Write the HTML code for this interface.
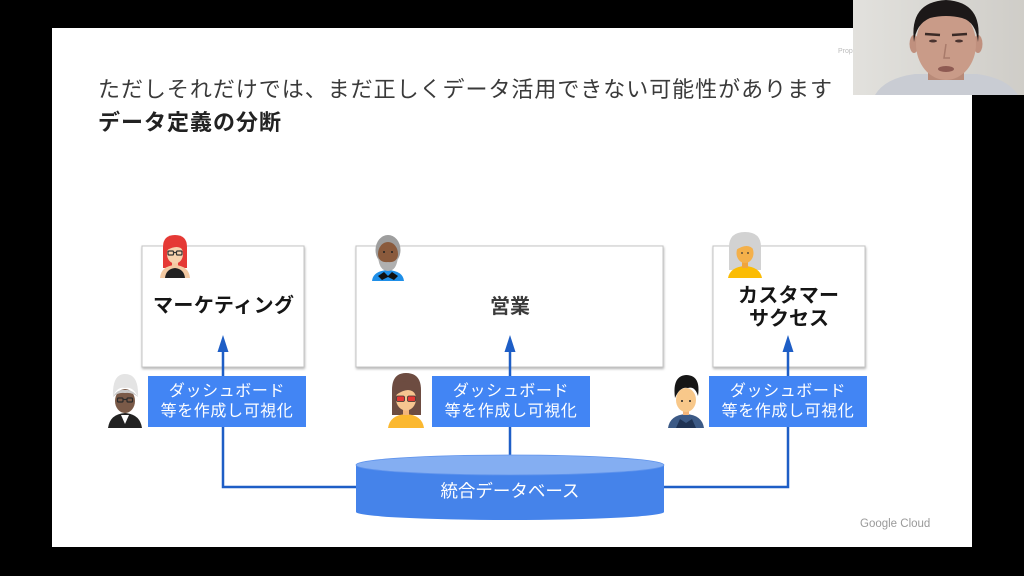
<!DOCTYPE html>
<html>
<head>
<meta charset="utf-8">
<style>
html,body{margin:0;padding:0;background:#000;}
svg{display:block;}
text{font-family:"Liberation Sans","Noto Sans CJK JP",sans-serif;}
</style>
</head>
<body>
<svg width="1024" height="576" viewBox="0 0 1024 576" xmlns="http://www.w3.org/2000/svg">
<defs>
  <filter id="sh" x="-10%" y="-10%" width="120%" height="130%">
    <feDropShadow dx="0.5" dy="1.5" stdDeviation="1.2" flood-color="#000" flood-opacity="0.3"/>
  </filter>
  <linearGradient id="cam" x1="0" y1="0" x2="1" y2="0">
    <stop offset="0" stop-color="#e2e1dd"/>
    <stop offset="1" stop-color="#cfcdc8"/>
  </linearGradient>
</defs>
<rect width="1024" height="576" fill="#000"/>
<!-- slide -->
<rect x="52" y="28" width="920" height="519" fill="#fff"/>
<text x="838" y="53" font-size="7" fill="#bbb">Prop</text>

<!-- title -->
<text x="98" y="97" font-size="22" fill="#3a3a3a" textLength="734" lengthAdjust="spacing">ただしそれだけでは、まだ正しくデータ活用できない可能性があります</text>
<text x="98" y="130" font-size="22" font-weight="bold" fill="#222" textLength="183" lengthAdjust="spacing">データ定義の分断</text>

<!-- boxes -->
<rect x="142" y="246" width="162" height="121" fill="#fff" stroke="#c4c4c4" stroke-width="1" filter="url(#sh)"/>
<rect x="356" y="246" width="307" height="121" fill="#fff" stroke="#c4c4c4" stroke-width="1" filter="url(#sh)"/>
<rect x="713" y="246" width="152" height="121" fill="#fff" stroke="#c4c4c4" stroke-width="1" filter="url(#sh)"/>

<text x="153" y="312" font-size="20" font-weight="bold" fill="#151515" textLength="141" lengthAdjust="spacing">マーケティング</text>
<text x="510" y="313" font-size="20" font-weight="bold" fill="#3a3a3a" text-anchor="middle">営業</text>
<text x="738" y="302" font-size="20" font-weight="bold" fill="#151515" textLength="101" lengthAdjust="spacing">カスタマー</text>
<text x="789" y="325" font-size="20" font-weight="bold" fill="#151515" text-anchor="middle">サクセス</text>

<!-- connectors -->
<g stroke="#1e5ec6" stroke-width="2.5" fill="none">
  <polyline points="223,350 223,487 358,487"/>
  <line x1="510" y1="350" x2="510" y2="457"/>
  <polyline points="788,350 788,487 662,487"/>
</g>
<g fill="#1e5ec6">
  <polygon points="223,335 217.5,352 228.5,352"/>
  <polygon points="510,335 504.5,352 515.5,352"/>
  <polygon points="788,335 782.5,352 793.5,352"/>
</g>

<!-- labels -->
<rect x="148" y="376" width="158" height="51" fill="#4285f4"/>
<rect x="432" y="376" width="158" height="51" fill="#4285f4"/>
<rect x="709" y="376" width="158" height="51" fill="#4285f4"/>
<g font-size="16" fill="#fff" text-anchor="middle" letter-spacing="0.6">
  <text x="227" y="396">ダッシュボード</text>
  <text x="227" y="416">等を作成し可視化</text>
  <text x="511" y="396">ダッシュボード</text>
  <text x="511" y="416">等を作成し可視化</text>
  <text x="788" y="396">ダッシュボード</text>
  <text x="788" y="416">等を作成し可視化</text>
</g>

<!-- database -->
<path d="M356,465 L356,512 A154,8 0 0 0 664,512 L664,465 Z" fill="#4583ea"/>
<ellipse cx="510" cy="465" rx="154" ry="10" fill="#84aef2" stroke="#5f93ec" stroke-width="0.8"/>
<text x="510" y="497" font-size="17.5" fill="#fff" text-anchor="middle">統合データベース</text>

<!-- Google Cloud -->
<text x="860" y="527" font-size="11.5" fill="#9a9a9a">Google Cloud</text>

<!-- avatar 1: red-haired woman -->
<g>
  <path d="M163,268 L163,247 Q163,235 175,235 Q187,235 187,247 L187,268 Z" fill="#e53935"/>
  <path d="M160,278 Q161,266 175,265 Q189,266 190,278 Z" fill="#f3c9a2"/>
  <path d="M165,278 Q166,269 175,268 Q184,269 185,278 Z" fill="#222"/>
  <rect x="172" y="259" width="6" height="8" fill="#f3c9a2"/>
  <ellipse cx="175" cy="254" rx="8" ry="9.5" fill="#f6d2ae"/>
  <path d="M167,250 Q168,242 175,242 Q182,242 183,250 Q178,244 167,250 Z" fill="#e53935"/>
  <g fill="none" stroke="#333" stroke-width="1.2">
    <rect x="168" y="251" width="5.5" height="4" rx="1"/>
    <rect x="176.5" y="251" width="5.5" height="4" rx="1"/>
    <line x1="173.5" y1="252.5" x2="176.5" y2="252.5"/>
  </g>
</g>

<!-- avatar 2: grey-haired bearded man -->
<g>
  <path d="M372,281 Q373,271 388,270 Q403,271 404,281 Z" fill="#1f8fe8"/>
  <path d="M378,276 L384,272 L388,276 L392,272 L398,276 L394,280 L388,277 L382,280 Z" fill="#111"/>
  <ellipse cx="388" cy="250" rx="12.5" ry="15" fill="#9e9e9e"/>
  <ellipse cx="388" cy="254" rx="10" ry="12" fill="#8a5a3c"/>
  <path d="M378,256 Q379,271 388,271 Q397,271 398,256 Q396,263 388,262 Q380,263 378,256 Z" fill="#b0b0b0"/>
  <circle cx="384" cy="252" r="1" fill="#222"/>
  <circle cx="392" cy="252" r="1" fill="#222"/>
</g>

<!-- avatar 3: grey-haired woman -->
<g>
  <path d="M729,270 L729,247 Q729,232 745,232 Q761,232 761,247 L761,270 Z" fill="#d2d2d2"/>
  <path d="M728,278 Q730,267 745,266 Q760,267 762,278 Z" fill="#fbbc04"/>
  <rect x="742" y="260" width="6" height="8" fill="#f0a53c"/>
  <ellipse cx="745" cy="253" rx="8.5" ry="10" fill="#f4b04a"/>
  <path d="M736,250 Q737,240 745,240 Q754,240 754,250 Q748,242 736,250 Z" fill="#d2d2d2"/>
  <circle cx="742" cy="253" r="0.9" fill="#333"/>
  <circle cx="748" cy="253" r="0.9" fill="#333"/>
</g>

<!-- avatar 4: turban man -->
<g>
  <path d="M108,428 Q110,414 125,413 Q140,414 142,428 Z" fill="#222"/>
  <path d="M121,415 L125,424 L129,415 Z" fill="#fff"/>
  <ellipse cx="125" cy="401" rx="10" ry="12" fill="#7a5a48"/>
  <path d="M113,397 Q112,374 125,374 Q139,374 138,397 Q133,386 125,388 Q117,386 113,397 Z" fill="#e4e4e4"/>
  <path d="M113,397 Q117,389 125,390 Q132,389 138,397 Q132,392 125,393 Q118,392 113,397Z" fill="#c8c8c8"/>
  <g fill="none" stroke="#2a2a2a" stroke-width="1.2">
    <rect x="117.5" y="398" width="5.5" height="4" rx="1"/>
    <rect x="127" y="398" width="5.5" height="4" rx="1"/>
    <line x1="123" y1="399.5" x2="127" y2="399.5"/>
  </g>
</g>

<!-- avatar 5: sunglasses woman -->
<g>
  <path d="M392,415 L392,390 Q392,373 406,373 Q421,373 421,390 L421,415 Z" fill="#6d4c41"/>
  <path d="M388,428 Q390,415 406,414 Q422,415 424,428 Z" fill="#fbb830"/>
  <rect x="403" y="407" width="6" height="8" fill="#f3b57a"/>
  <ellipse cx="406" cy="399" rx="10" ry="11.5" fill="#f6c590"/>
  <path d="M396,395 Q397,381 406,381 Q416,381 416,395 Q410,385 396,395 Z" fill="#6d4c41"/>
  <rect x="396.5" y="396" width="8" height="5.5" rx="1.5" fill="#e53935" stroke="#333" stroke-width="0.8"/>
  <rect x="407.5" y="396" width="8" height="5.5" rx="1.5" fill="#e53935" stroke="#333" stroke-width="0.8"/>
</g>

<!-- avatar 6: black-haired man -->
<g>
  <path d="M668,428 Q670,415 686,414 Q702,415 704,428 Z" fill="#3c5a86"/>
  <path d="M676,428 L680,419 L686,423 L692,419 L696,428 Z" fill="#1f3354"/>
  <rect x="683" y="407" width="6" height="8" fill="#f3b57a"/>
  <ellipse cx="686" cy="400" rx="10" ry="12" fill="#f8c88a"/>
  <path d="M675,398 Q672,376 686,375 Q701,375 698,396 Q695,386 688,388 Q680,386 675,398 Z" fill="#161616"/>
  <circle cx="682" cy="401" r="1" fill="#222"/>
  <circle cx="690" cy="401" r="1" fill="#222"/>
</g>

<!-- webcam -->
<rect x="853" y="0" width="171" height="95" fill="url(#cam)"/>
<path d="M875,95 Q885,78 915,74 L977,74 Q1007,78 1018,95 Z" fill="#c9ccd3"/>
<rect x="928" y="60" width="36" height="20" fill="#b88a78"/>
<ellipse cx="914" cy="44" rx="4.5" ry="9" fill="#c0907e"/>
<ellipse cx="978" cy="44" rx="4.5" ry="9" fill="#c0907e"/>
<ellipse cx="946" cy="44" rx="30" ry="36" fill="#c99b88"/>
<path d="M914,42 Q909,2 946,0 Q983,2 978,42 Q976,22 962,18 Q946,14 930,18 Q916,24 914,42 Z" fill="#1c1818"/>
<path d="M925,34 L940,35" stroke="#3a2a26" stroke-width="2.5"/>
<path d="M952,35 L967,34" stroke="#3a2a26" stroke-width="2.5"/>
<ellipse cx="933" cy="41" rx="4" ry="1.5" fill="#4a3430"/>
<ellipse cx="959" cy="41" rx="4" ry="1.5" fill="#4a3430"/>
<path d="M946,44 L944,58 L950,58" stroke="#a87a6a" stroke-width="1.5" fill="none"/>
<ellipse cx="946" cy="69" rx="8" ry="3" fill="#8e5a52"/>
</svg>
</body>
</html>
